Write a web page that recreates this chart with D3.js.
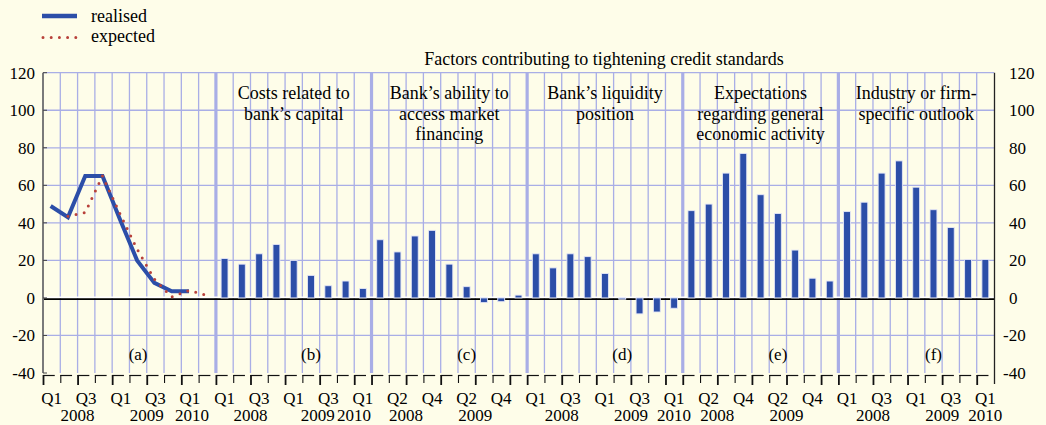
<!DOCTYPE html>
<html><head><meta charset="utf-8">
<script src="https://cdn.jsdelivr.net/npm/d3@7"></script>
<style>
html,body{margin:0;padding:0;background:#fefde9;}
svg{display:block;font-family:"Liberation Serif","Times New Roman",serif;}
</style></head>
<body><svg id="c" width="1046" height="425"></svg>
<script>
// ---------- data ----------
const quartersA = ["Q1 2008","Q2 2008","Q3 2008","Q4 2008","Q1 2009","Q2 2009","Q3 2009","Q4 2009","Q1 2010","Q2 2010"];
const quarters = ["Q1 2008","Q2 2008","Q3 2008","Q4 2008","Q1 2009","Q2 2009","Q3 2009","Q4 2009","Q1 2010"];
const realised = [49, 43, 65, 65, 42, 20, 8, 3.5, 3.5];
const expected = [null, 43.5, 45.5, 65, 45, 26, 10, 0.5, 4, 1.5];
const capitalCosts = [21, 18, 23.5, 28.5, 20, 12, 6.5, 9, 5];
const marketFinancing = [31, 24.5, 33, 36, 18, 6, -2.5, -2, 1.5];
const liquidity = [23.5, 16, 23.5, 22, 13, -0.7, -8.5, -7.5, -5.5];
const economicActivity = [46.5, 50, 66.5, 77, 55, 45, 25.5, 10.5, 9];
const industryOutlook = [46, 51, 66.5, 73, 59, 47, 37.5, 20.5, 20.5];
const yTicks = [-40, -20, 0, 20, 40, 60, 80, 100, 120];
const panelLetters = ["(a)", "(b)", "(c)", "(d)", "(e)", "(f)"];
const panelTitles = [[], ["Costs related to", "bank’s capital"], ["Bank’s ability to", "access market", "financing"],
  ["Bank’s liquidity", "position"], ["Expectations", "regarding general", "economic activity"], ["Industry or firm-", "specific outlook"]];
const qLabelsOdd = ["Q1", "", "Q3", "", "Q1", "", "Q3", "", "Q1", ""];
const qLabelsEven = ["", "Q2", "", "Q4", "", "Q2", "", "Q4", "", ""];
const yearsOdd = [["2008", 0, 3], ["2009", 4, 7], ["2010", 8, 8]];
const yearsEven = [["2008", 0, 3], ["2009", 4, 7]];
const mainTitle = "Factors contributing to tightening credit standards";
const legendLabels = ["realised", "expected"];

// ---------- layout ----------
const C = {bg:"#fefde9", grid:"#a9aee6", blue:"#2c4ea8", red:"#b8413a", axis:"#7a7a7a"};
const svg = d3.select("#c");
const panels = [
  {cats: quartersA, bars: null, q: qLabelsOdd, years: yearsOdd},
  {cats: quarters, bars: capitalCosts, q: qLabelsOdd, years: yearsOdd},
  {cats: quarters, bars: marketFinancing, q: qLabelsEven, years: yearsEven},
  {cats: quarters, bars: liquidity, q: qLabelsOdd, years: yearsOdd},
  {cats: quarters, bars: economicActivity, q: qLabelsEven, years: yearsEven},
  {cats: quarters, bars: industryOutlook, q: qLabelsOdd, years: yearsOdd}
];
const cols = [];
panels.forEach((p, pi) => { p.start = cols.length; p.cats.forEach((c, i) => cols.push({pi, i, key: pi + "|" + c})); });

const x = d3.scaleBand().domain(cols.map(c => c.key)).range([43, 994]).paddingInner(0).paddingOuter(0);
const y = d3.scaleLinear().domain([-40, 120]).range([373, 72.7]);
const bw = x.bandwidth();
const yTop = y(120), yBot = y(-40);
const key = (pi, i) => pi + "|" + panels[pi].cats[i];

// horizontal grid
svg.append("g").selectAll("line").data(yTicks.filter(t => t > -40 && t !== 0)).join("line")
  .attr("x1", x.range()[0]).attr("x2", x.range()[1]).attr("y1", d => y(d)).attr("y2", d => y(d))
  .attr("stroke", C.grid).attr("stroke-width", 1.3);
// vertical grid
const bounds = d3.range(cols.length + 1).map(k => x.range()[0] + k * bw);
const panelBounds = panels.map(p => p.start);
svg.append("g").selectAll("line").data(d3.range(1, cols.length)).join("line")
  .attr("x1", k => bounds[k]).attr("x2", k => bounds[k]).attr("y1", yTop).attr("y2", yBot)
  .attr("stroke", C.grid).attr("stroke-width", k => panelBounds.includes(k) ? 3.2 : 1.3);

// zero line
svg.append("line").attr("x1", x.range()[0]).attr("x2", x.range()[1]).attr("y1", y(0) - 0.7).attr("y2", y(0) - 0.7)
  .attr("stroke", "#ffffff").attr("stroke-width", 1.4);
svg.append("line").attr("x1", x.range()[0]).attr("x2", x.range()[1]).attr("y1", y(0) + 1.2).attr("y2", y(0) + 1.2)
  .attr("stroke", "#000").attr("stroke-width", 1.6);

// axes lines
svg.append("line").attr("x1", 43).attr("x2", 43).attr("y1", yTop).attr("y2", yBot).attr("stroke", C.axis).attr("stroke-width", 2);
svg.append("line").attr("x1", 994.5).attr("x2", 994.5).attr("y1", yTop).attr("y2", yBot + 11).attr("stroke", "#222").attr("stroke-width", 1.3);
svg.append("g").selectAll("line").data(yTicks).join("line")
  .attr("x1", 43).attr("x2", 47).attr("y1", d => y(d)).attr("y2", d => y(d)).attr("stroke", "#444").attr("stroke-width", 1);

// y tick labels
svg.append("g").selectAll("text").data(yTicks).join("text")
  .attr("x", 35).attr("y", d => y(d) + 6).attr("text-anchor", "end").attr("font-size", 17).text(d => d);
svg.append("g").selectAll("text").data(yTicks).join("text")
  .attr("x", d => d < 0 ? 1003 : 1009).attr("y", d => y(d) + 6).attr("text-anchor", "start").attr("font-size", 17).text(d => d);

// bottom tick row
const tickG = svg.append("g");
tickG.selectAll("line.h").data(d3.range(cols.length)).join("line").attr("class", "h")
  .attr("x1", k => bounds[k]).attr("x2", k => bounds[k] + bw * 0.68).attr("y1", 375.5).attr("y2", 375.5)
  .attr("stroke", "#111").attr("stroke-width", 1.2);
tickG.selectAll("line.v").data(d3.range(cols.length)).join("line").attr("class", "v")
  .attr("x1", k => bounds[k] + 0.5).attr("x2", k => bounds[k] + 0.5).attr("y1", 375)
  .attr("y2", k => ((k - panels[cols[k].pi].start) % 2 === 0) ? 385 : 383)
  .attr("stroke", "#111").attr("stroke-width", k => ((k - panels[cols[k].pi].start) % 2 === 0) ? 1.8 : 1.1);

// bars
const barW = bw * 0.4;
panels.forEach((p, pi) => {
  if (!p.bars) return;
  svg.append("g").selectAll("rect").data(p.bars).join("rect")
    .attr("x", (d, i) => x(key(pi, i)) + (bw - barW) / 2)
    .attr("y", d => y(Math.max(0, d)))
    .attr("width", barW)
    .attr("height", d => Math.abs(y(d) - y(0)))
    .attr("fill", C.blue).attr("stroke", "#e4e6f6").attr("stroke-width", 0.9);
});

// lines panel (a)
const lineGen = d3.line().defined(d => d != null).x((d, i) => x(key(0, i)) + bw / 2 - 1).y(d => y(d));
svg.append("path").attr("d", lineGen(realised)).attr("fill", "none").attr("stroke", C.blue)
  .attr("stroke-width", 4).attr("stroke-linejoin", "miter");
svg.append("path").attr("d", lineGen(expected)).attr("fill", "none").attr("stroke", C.red)
  .attr("stroke-width", 3).attr("stroke-linecap", "round").attr("stroke-dasharray", "0 8.3");

// panel labels and titles
panels.forEach((p, pi) => {
  const x0 = bounds[p.start], x1 = bounds[p.start + p.cats.length];
  svg.append("text").attr("x", x(key(pi, 5)) + bw / 2).attr("y", 360).attr("text-anchor", "middle")
    .attr("font-size", 17).text(panelLetters[pi]);
  panelTitles[pi].forEach((t, li) => {
    svg.append("text").attr("x", (x0 + x1) / 2).attr("y", 99 + li * 20.5).attr("text-anchor", "middle")
      .attr("font-size", 18).text(t);
  });
  p.q.slice(0, p.cats.length).forEach((q, i) => {
    if (!q) return;
    svg.append("text").attr("x", x(key(pi, i)) + bw / 2).attr("y", 404).attr("text-anchor", "middle")
      .attr("font-size", 17).text(q);
  });
  p.years.forEach(([yr, a, b]) => {
    let cx = (bounds[p.start + a] + bounds[p.start + b + 1]) / 2;
    if (pi === 1 && a === b) cx -= 9;
    if (pi === 1 && a === 4) cx -= 2;
    if (pi === 0 && a === b) cx += 2;
    svg.append("text").attr("x", cx).attr("y", 421).attr("text-anchor", "middle")
      .attr("font-size", 17).text(yr);
  });
});

// main title
svg.append("text").attr("x", 604).attr("y", 65).attr("text-anchor", "middle").attr("font-size", 18).text(mainTitle);

// legend
svg.append("line").attr("x1", 42).attr("x2", 77).attr("y1", 16).attr("y2", 16).attr("stroke", C.blue).attr("stroke-width", 4.5);
svg.append("line").attr("x1", 43).attr("x2", 76).attr("y1", 37.5).attr("y2", 37.5).attr("stroke", C.red)
  .attr("stroke-width", 3).attr("stroke-linecap", "round").attr("stroke-dasharray", "0 8.2");
svg.append("text").attr("x", 91).attr("y", 22).attr("font-size", 18).text(legendLabels[0]);
svg.append("text").attr("x", 91).attr("y", 42).attr("font-size", 18).text(legendLabels[1]);
</script></body></html>
